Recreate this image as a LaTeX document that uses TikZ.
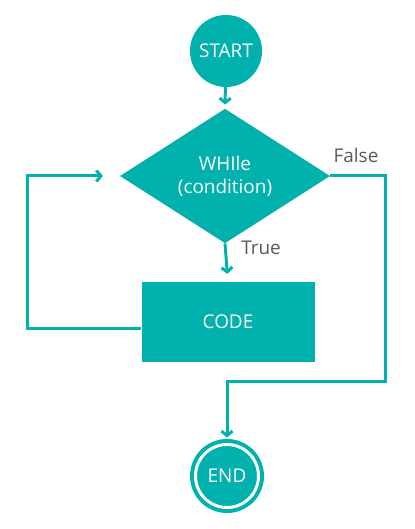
\documentclass[tikz,border=0pt]{standalone}
\usepackage{fontspec}
\setmainfont{Open Sans}
\usetikzlibrary{shapes.geometric,arrows.meta}

\definecolor{flowteal}{RGB}{0,177,173}
\definecolor{labelgray}{RGB}{90,90,90}

\tikzset{
    flow/.style={draw=flowteal, line width=3bp, -{Straight Barb[length=4.5bp,width=11bp]}},
    terminal/.style={circle, fill=flowteal, text=white, inner sep=0pt},
    decision/.style={diamond, fill=flowteal, text=white, align=center, inner sep=0pt, minimum width=210bp, minimum height=105bp},
    process/.style={rectangle, fill=flowteal, text=white, minimum width=173bp, minimum height=80bp},
    branch/.style={text=labelgray}
}

\begin{document}
\begin{tikzpicture}[x=1bp, y=-1bp, font=\fontsize{19}{23}\selectfont]
            \useasboundingbox (0, 0) rectangle (414, 529);

            \node[terminal, minimum size=72bp] (start) at (226, 51) {START};

            \node[decision] (cond) at (225, 176) {WHIle\\(condition)};

            \node[process] (code) at (228, 322) {CODE};

            \node[terminal, minimum size=63bp, draw=flowteal, line width=4bp, double=white, double distance=3bp] (end) at (227, 476) {END};

            \node[branch] (falselabel) at (356, 155) {False};
            \node[branch] (truelabel) at (261, 248) {True};

            \coordinate (falseright) at (385, 176);
            \coordinate (falsedown) at (385, 381);
            \coordinate (falseback) at (227, 381);
            \coordinate (loopcorner) at (27, 176);

            \draw[flow, shorten >=4bp] (start) -- (cond.north);

            \draw[flow, shorten >=8bp] (cond.south) -- (code.north);

            \draw[flow, shorten >=5bp] (cond.east) -- (falseright) -- (falsedown) -- (falseback) -- (end.north);

            \draw[flow] ([yshift=-6bp]code.west) -| (loopcorner) -- ([xshift=-17bp]cond.west);

        \end{tikzpicture}
\end{document}
